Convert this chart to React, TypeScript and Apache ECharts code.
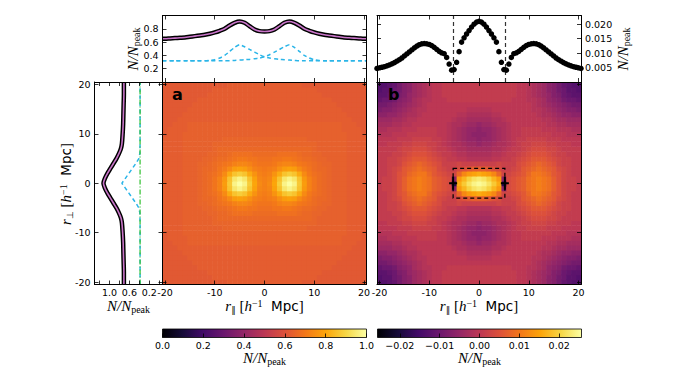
import React, { useEffect, useRef } from "react";
import * as echarts from "echarts";

// ---------- colour map (inferno) ----------
const INFERNO = ["#000004", "#160b39", "#420a68", "#6a176e", "#932667", "#bc3754", "#dd513a", "#f37819", "#fca50a", "#f6d746", "#fcffa4"];

// ---------- top-left: profile along r_par (half, r_par >= 0, mirrored) ----------
const PROFILE_X_HALF = [0, 1, 2, 3, 4, 5, 6, 7, 8, 9, 10, 11, 12, 13, 14, 15, 16, 17, 18, 19, 20, 20.5];
const PROFILE_TOTAL_HALF = [0.76, 0.765, 0.79, 0.84, 0.89, 0.91, 0.89, 0.85, 0.8, 0.77, 0.745, 0.725, 0.71, 0.7, 0.69, 0.68, 0.67, 0.665, 0.66, 0.655, 0.65, 0.65];
const PROFILE_X_FULL = [-20.5, -20, -19, -18, -17, -16, -15, -14, -13, -12, -11, -10, -9, -8, -7, -6, -5, -4, -3, -2, -1, 0, 1, 2, 3, 4, 5, 6, 7, 8, 9, 10, 11, 12, 13, 14, 15, 16, 17, 18, 19, 20, 20.5];
const PROFILE_SINGLE_RIGHT = [0.32, 0.32, 0.32, 0.32, 0.32, 0.32, 0.32, 0.32, 0.32, 0.32, 0.32, 0.32, 0.32, 0.32, 0.32, 0.325, 0.33, 0.335, 0.34, 0.35, 0.36, 0.38, 0.41, 0.45, 0.49, 0.53, 0.56, 0.52, 0.46, 0.4, 0.36, 0.335, 0.325, 0.32, 0.32, 0.32, 0.32, 0.32, 0.32, 0.32, 0.32, 0.32, 0.32];

// ---------- top-right: residual profile (half, mirrored) ----------
const RESID_X_HALF = [0, 0.5, 1, 1.5, 2, 2.5, 3, 3.5, 4, 4.5, 5, 5.5, 6, 6.5, 7, 7.5, 8, 8.5, 9, 9.5, 10, 10.5, 11, 11.5, 12, 12.5, 13, 13.5, 14, 14.5, 15, 15.5, 16, 16.5, 17, 17.5, 18, 18.5, 19, 19.5, 20, 20.5];
const RESID_N_HALF = [0.021, 0.0207, 0.02, 0.019, 0.0178, 0.0166, 0.0153, 0.0138, 0.0105, 0.0068, 0.0043, 0.0041, 0.0062, 0.0085, 0.0098, 0.0101, 0.0106, 0.0113, 0.012, 0.0126, 0.013, 0.0132, 0.0133, 0.0132, 0.0129, 0.0124, 0.0118, 0.0111, 0.0104, 0.0097, 0.009, 0.0083, 0.0077, 0.0072, 0.0067, 0.0063, 0.0059, 0.0056, 0.0053, 0.0051, 0.0049, 0.0047];
const DIVIDER_X = [-5.2, 5.2];

// ---------- left: profile along r_perp (half, mirrored) ----------
const SIDE_R_HALF = [0, 1, 2, 3, 4, 5, 6, 7, 8, 10, 12, 14, 16, 18, 20, 20.5];
const SIDE_TOTAL_HALF = [1.12, 1.09, 1.04, 0.98, 0.92, 0.86, 0.81, 0.77, 0.75, 0.735, 0.725, 0.72, 0.715, 0.71, 0.71, 0.71];
const SIDE_SINGLE_R_HALF = [0, 1, 2, 3, 4, 5, 6, 8, 20.5];
const SIDE_SINGLE_HALF = [0.75, 0.68, 0.61, 0.54, 0.47, 0.41, 0.39, 0.385, 0.385];
const SIDE_BASE_R = [-20.5, 20.5];
const SIDE_BASE = [0.385, 0.385];

// ---------- panel a: N/N_peak, quadrant r_perp = 0..20 (rows), r_par = 0..20 (cols) ----------
const PANEL_A = [
  [0.72, 0.74, 0.8, 0.88, 0.97, 1.0, 0.97, 0.87, 0.78, 0.72, 0.69, 0.67, 0.66, 0.65, 0.64, 0.64, 0.64, 0.63, 0.63, 0.63, 0.63],
  [0.72, 0.73, 0.79, 0.86, 0.94, 0.97, 0.94, 0.86, 0.77, 0.72, 0.69, 0.67, 0.66, 0.65, 0.64, 0.64, 0.64, 0.63, 0.63, 0.63, 0.63],
  [0.71, 0.72, 0.76, 0.81, 0.86, 0.88, 0.86, 0.81, 0.74, 0.7, 0.68, 0.67, 0.66, 0.65, 0.64, 0.64, 0.64, 0.63, 0.63, 0.63, 0.63],
  [0.7, 0.71, 0.72, 0.75, 0.78, 0.79, 0.78, 0.74, 0.71, 0.69, 0.67, 0.66, 0.66, 0.65, 0.64, 0.64, 0.64, 0.63, 0.63, 0.63, 0.63],
  [0.69, 0.69, 0.7, 0.72, 0.73, 0.73, 0.72, 0.7, 0.69, 0.68, 0.67, 0.66, 0.65, 0.65, 0.64, 0.64, 0.64, 0.63, 0.63, 0.63, 0.63],
  [0.68, 0.68, 0.69, 0.69, 0.7, 0.7, 0.69, 0.68, 0.67, 0.67, 0.66, 0.65, 0.65, 0.64, 0.64, 0.64, 0.64, 0.63, 0.63, 0.63, 0.63],
  [0.67, 0.67, 0.67, 0.68, 0.68, 0.68, 0.68, 0.67, 0.66, 0.66, 0.65, 0.65, 0.64, 0.64, 0.64, 0.64, 0.64, 0.63, 0.63, 0.63, 0.63],
  [0.66, 0.66, 0.66, 0.66, 0.66, 0.66, 0.66, 0.66, 0.66, 0.66, 0.65, 0.64, 0.64, 0.64, 0.64, 0.64, 0.64, 0.63, 0.63, 0.63, 0.63],
  [0.65, 0.65, 0.65, 0.65, 0.65, 0.65, 0.65, 0.65, 0.65, 0.65, 0.65, 0.64, 0.64, 0.64, 0.64, 0.64, 0.64, 0.63, 0.63, 0.63, 0.63],
  [0.65, 0.65, 0.65, 0.65, 0.65, 0.65, 0.65, 0.65, 0.65, 0.64, 0.64, 0.64, 0.64, 0.64, 0.64, 0.64, 0.64, 0.63, 0.63, 0.63, 0.63],
  [0.64, 0.64, 0.64, 0.64, 0.64, 0.64, 0.64, 0.64, 0.64, 0.64, 0.64, 0.64, 0.64, 0.64, 0.64, 0.64, 0.64, 0.63, 0.63, 0.63, 0.62],
  [0.64, 0.64, 0.64, 0.64, 0.64, 0.64, 0.64, 0.64, 0.64, 0.64, 0.64, 0.64, 0.64, 0.64, 0.64, 0.64, 0.63, 0.63, 0.63, 0.63, 0.62],
  [0.64, 0.64, 0.64, 0.64, 0.64, 0.64, 0.64, 0.64, 0.64, 0.64, 0.64, 0.64, 0.64, 0.64, 0.64, 0.64, 0.63, 0.63, 0.63, 0.62, 0.62],
  [0.63, 0.63, 0.63, 0.63, 0.63, 0.63, 0.63, 0.63, 0.63, 0.63, 0.63, 0.63, 0.63, 0.63, 0.63, 0.63, 0.63, 0.63, 0.62, 0.62, 0.62],
  [0.63, 0.63, 0.63, 0.63, 0.63, 0.63, 0.63, 0.63, 0.63, 0.63, 0.63, 0.63, 0.63, 0.63, 0.63, 0.63, 0.63, 0.62, 0.62, 0.62, 0.62],
  [0.63, 0.63, 0.63, 0.63, 0.63, 0.63, 0.63, 0.63, 0.63, 0.63, 0.63, 0.63, 0.63, 0.63, 0.63, 0.63, 0.62, 0.62, 0.62, 0.62, 0.62],
  [0.63, 0.63, 0.63, 0.63, 0.63, 0.63, 0.63, 0.63, 0.63, 0.63, 0.63, 0.63, 0.63, 0.63, 0.63, 0.62, 0.62, 0.62, 0.62, 0.62, 0.62],
  [0.63, 0.63, 0.63, 0.63, 0.63, 0.63, 0.63, 0.63, 0.63, 0.63, 0.63, 0.63, 0.63, 0.63, 0.62, 0.62, 0.62, 0.62, 0.62, 0.62, 0.62],
  [0.63, 0.63, 0.63, 0.63, 0.63, 0.63, 0.63, 0.63, 0.63, 0.63, 0.63, 0.63, 0.62, 0.62, 0.62, 0.62, 0.62, 0.62, 0.62, 0.62, 0.62],
  [0.63, 0.63, 0.63, 0.63, 0.63, 0.63, 0.63, 0.63, 0.63, 0.63, 0.63, 0.62, 0.62, 0.62, 0.62, 0.62, 0.62, 0.62, 0.62, 0.62, 0.62],
  [0.63, 0.63, 0.63, 0.63, 0.63, 0.63, 0.63, 0.63, 0.62, 0.62, 0.62, 0.62, 0.62, 0.62, 0.62, 0.62, 0.62, 0.62, 0.62, 0.62, 0.62],
];

// ---------- panel b: residual N/N_peak in units of 1e-3, same quadrant layout ----------
const PANEL_B_MILLI = [
  [25, 24, 22, 19, 16, -18, 4, 5, 6, 7, 9, 10, 11, 10, 9, 7, 5, 3, 2, 2, 1],
  [23, 22, 20, 17, 14, -6, 4, 5, 6, 7, 9, 10, 11, 10, 9, 7, 5, 3, 2, 2, 1],
  [16, 15, 14, 12, 8, 3, 3, 4, 5, 6, 8, 10, 10, 9, 8, 6, 5, 3, 2, 1, 1],
  [7, 7, 6, 5, 4, 2, 2, 3, 4, 6, 7, 8, 9, 8, 7, 6, 4, 3, 2, 1, 1],
  [2, 2, 2, 2, 3, 2, 2, 2, 4, 5, 6, 7, 8, 7, 6, 5, 3, 2, 2, 1, 1],
  [-1, -1, -1, 0, 0, 1, 1, 2, 3, 4, 5, 6, 6, 6, 5, 4, 3, 2, 2, 1, 1],
  [-2, -2, -2, -1, -1, 0, 1, 1, 2, 3, 4, 5, 5, 5, 4, 3, 2, 2, 1, 1, 1],
  [-3, -3, -3, -2, -2, -1, 0, 1, 1, 2, 3, 4, 4, 4, 3, 3, 2, 1, 1, 1, 1],
  [-5, -4, -4, -3, -2, -2, -1, 0, 1, 2, 2, 3, 3, 3, 2, 2, 1, 1, 1, 0, 0],
  [-6, -5, -5, -4, -3, -2, -1, 0, 1, 1, 2, 2, 2, 2, 1, 1, 1, 0, 0, 0, 0],
  [-6, -6, -5, -4, -3, -2, -1, 0, 0, 1, 1, 1, 1, 1, 1, 0, 0, 0, -1, -1, -1],
  [-6, -5, -5, -4, -3, -2, -1, 0, 0, 1, 1, 1, 1, 0, 0, 0, -1, -1, -1, -2, -2],
  [-5, -4, -4, -3, -2, -2, -1, 0, 0, 0, 0, 0, 0, 0, -1, -1, -2, -2, -3, -3, -3],
  [-3, -3, -3, -2, -2, -1, 0, 0, 0, 0, 0, 0, 0, -1, -1, -2, -3, -3, -4, -4, -4],
  [-2, -2, -2, -1, -1, 0, 0, 0, 0, 0, 0, 0, -1, -2, -2, -3, -4, -5, -5, -6, -6],
  [-1, -1, -1, 0, 0, 0, 0, 0, 0, 0, 0, -1, -1, -2, -3, -4, -5, -6, -7, -7, -8],
  [0, 0, 0, 0, 0, 0, 0, 0, 0, 0, 0, -1, -2, -3, -4, -5, -6, -7, -8, -9, -9],
  [1, 1, 1, 1, 1, 1, 1, 0, 0, 0, -1, -1, -2, -3, -5, -6, -7, -9, -10, -10, -11],
  [1, 1, 1, 1, 1, 1, 1, 1, 0, 0, -1, -2, -3, -4, -5, -7, -8, -10, -11, -12, -12],
  [1, 1, 1, 1, 1, 1, 1, 1, 0, 0, -1, -2, -3, -4, -6, -7, -9, -10, -12, -12, -13],
  [1, 1, 1, 1, 1, 1, 1, 1, 0, 0, -1, -2, -3, -4, -6, -7, -9, -11, -12, -13, -13],
];

const MARKER_X = [-5.2, 5.2];
const MARKER_Y = [0, 0];
const BOX_X = [-5.2, 5.2];
const BOX_Y = [-3, 3];

const MAP_TICKS = [-20, -10, 0, 10, 20];
const SIDE_X_TICKS = [1.2, 1.0, 0.8, 0.6, 0.4, 0.2, 0.0];
const SIDE_X_LABELS = [1.0, 0.6, 0.2];
const TOP_L_TICKS = [0.2, 0.4, 0.6, 0.8];
const TOP_R_TICKS = [0.005, 0.01, 0.015, 0.02];
const CBAR_A_TICKS = [0, 0.2, 0.4, 0.6, 0.8, 1.0];
const CBAR_B_TICKS = [-0.02, -0.01, 0, 0.01, 0.02];

// ---------- helpers ----------
function mirrorXY(xs: number[], ys: number[]) {
  const out: number[][] = [];
  for (let i = xs.length - 1; i > 0; i--) out.push([-xs[i], ys[i]]);
  for (let i = 0; i < xs.length; i++) out.push([xs[i], ys[i]]);
  return out;
}
function mirrorSide(rs: number[], vs: number[]) {
  return mirrorXY(rs, vs).map((p) => [p[1], p[0]]);
}
function fieldCells(q: number[][]) {
  const cells: number[][] = [];
  for (let j = -20; j <= 20; j++) for (let i = -20; i <= 20; i++) cells.push([i, j, q[Math.abs(j)][Math.abs(i)]]);
  return cells;
}

const AX_FONT = { fontFamily: "DejaVu Sans", fontSize: 9.5, color: "#000" };
const AX_LINE = { show: true, onZero: false, lineStyle: { color: "#000", width: 1 } };
const tick = (vals: number[], len = 4) => ({ show: true, inside: true, length: len, customValues: vals, lineStyle: { color: "#000", width: 0.8 } });

function axis(kind: "x" | "y", grid: number, position: string, min: number, max: number, ticks: number[] | null, labels: number[] | null, fmt?: (v: number) => string, extra: any = {}) {
  return {
    type: "value",
    gridIndex: grid,
    position,
    min,
    max,
    z: 10,
    axisLine: AX_LINE,
    axisTick: ticks ? tick(ticks) : { show: false },
    axisLabel: labels ? { ...AX_FONT, margin: kind === "x" ? 3 : 4, customValues: labels, formatter: fmt } : { show: false },
    splitLine: { show: false },
    ...extra,
  };
}

const mapFmt = (v: number) => String(Math.round(v));

const RICH: any = {
  it: { fontFamily: "Liberation Serif", fontStyle: "italic", fontSize: 15, lineHeight: 16, fill: "#000" },
  rm: { fontFamily: "Liberation Serif", fontSize: 15, lineHeight: 16, fill: "#000" },
  sans: { fontFamily: "DejaVu Sans", fontSize: 13.5, lineHeight: 16, fill: "#000" },
  sub: { fontFamily: "Liberation Serif", fontSize: 10, lineHeight: 9, verticalAlign: "bottom", fill: "#000" },
  subsym: { fontFamily: "DejaVu Sans", fontSize: 9, lineHeight: 9, verticalAlign: "bottom", fill: "#000" },
  sup: { fontFamily: "Liberation Serif", fontSize: 10, lineHeight: 10, verticalAlign: "top", fill: "#000" },
};
const NNPEAK = "{it|N/N}{sub|peak}";
const RPAR = "{it|r}{subsym|\u2225}{rm| [}{it|h}{sup|\u22121}{sans|  Mpc}{rm|]}";
const RPERP = "{it|r}{subsym|\u22a5}{rm| [}{it|h}{sup|\u22121}{sans|  Mpc}{rm|]}";

function label(text: string, x: number, y: number, rotate = false) {
  return {
    type: "text",
    x,
    y,
    rotation: rotate ? Math.PI / 2 : 0,
    z: 20,
    style: { text, rich: RICH, align: "center", verticalAlign: "middle", fill: "#000" },
  };
}

const cellRender = (params: any, api: any) => {
  const x = api.value(0);
  const y = api.value(1);
  const a = api.coord([x - 0.5, y + 0.5]);
  const b = api.coord([x + 0.5, y - 0.5]);
  return {
    type: "rect",
    shape: { x: a[0], y: a[1], width: b[0] - a[0] + 0.6, height: b[1] - a[1] + 0.6 },
    style: { fill: api.visual("color") },
  };
};

const cbarRender = (params: any) => {
  const cs = params.coordSys;
  return {
    type: "rect",
    shape: { x: cs.x, y: cs.y, width: cs.width, height: cs.height },
    style: {
      fill: new echarts.graphic.LinearGradient(0, 0, 1, 0, INFERNO.map((c, i) => ({ offset: i / (INFERNO.length - 1), color: c }))),
      stroke: "#000",
      lineWidth: 0.8,
    },
  };
};

function buildOption(): any {
  const grids = [
    { left: 162.5, top: 15.5, width: 204, height: 66.5 }, // 0 top-left
    { left: 377, top: 15.5, width: 204, height: 66.5 }, // 1 top-right
    { left: 94.5, top: 82, width: 68, height: 202.5 }, // 2 side
    { left: 162.5, top: 82, width: 204, height: 202.5 }, // 3 map a
    { left: 377, top: 82, width: 204, height: 202.5 }, // 4 map b
    { left: 162.5, top: 329, width: 204, height: 8.5 }, // 5 cbar a
    { left: 377.5, top: 329, width: 204, height: 8.5 }, // 6 cbar b
  ];

  const R = 20.5;
  const xAxis = [
    axis("x", 0, "bottom", -R, R, MAP_TICKS, null),
    axis("x", 0, "top", -R, R, MAP_TICKS, null),
    axis("x", 1, "bottom", -R, R, MAP_TICKS, null),
    axis("x", 1, "top", -R, R, MAP_TICKS, null),
    axis("x", 2, "bottom", -0.065, 1.3, SIDE_X_TICKS, SIDE_X_LABELS, (v) => v.toFixed(1), { inverse: true }),
    axis("x", 2, "top", -0.065, 1.3, SIDE_X_TICKS, null, undefined, { inverse: true }),
    axis("x", 3, "bottom", -R, R, MAP_TICKS, MAP_TICKS, mapFmt),
    axis("x", 3, "top", -R, R, MAP_TICKS, null),
    axis("x", 4, "bottom", -R, R, MAP_TICKS, MAP_TICKS, mapFmt),
    axis("x", 4, "top", -R, R, MAP_TICKS, null),
    axis("x", 5, "bottom", 0, 1, CBAR_A_TICKS, CBAR_A_TICKS, (v) => v.toFixed(1), { axisLine: { show: false } }),
    { type: "value", gridIndex: 5, position: "top", min: 0, max: 1, show: false },
    axis("x", 6, "bottom", -0.0256, 0.0256, CBAR_B_TICKS, CBAR_B_TICKS, (v) => (v < -1e-9 ? "\u2212" : "") + Math.abs(v).toFixed(2), { axisLine: { show: false } }),
    { type: "value", gridIndex: 6, position: "top", min: -0.0256, max: 0.0256, show: false },
  ];
  const yAxis = [
    axis("y", 0, "left", 0, 1.0, TOP_L_TICKS, TOP_L_TICKS, (v) => v.toFixed(1)),
    axis("y", 0, "right", 0, 1.0, TOP_L_TICKS, null),
    axis("y", 1, "left", 0, 0.023, TOP_R_TICKS, null),
    axis("y", 1, "right", 0, 0.023, TOP_R_TICKS, TOP_R_TICKS, (v) => v.toFixed(3)),
    axis("y", 2, "left", -R, R, MAP_TICKS, MAP_TICKS, mapFmt),
    axis("y", 2, "right", -R, R, MAP_TICKS, null),
    axis("y", 3, "left", -R, R, MAP_TICKS, null),
    axis("y", 3, "right", -R, R, MAP_TICKS, null),
    axis("y", 4, "left", -R, R, MAP_TICKS, null),
    axis("y", 4, "right", -R, R, MAP_TICKS, null),
    { type: "value", gridIndex: 5, position: "left", min: 0, max: 1, show: false },
    { type: "value", gridIndex: 5, position: "right", min: 0, max: 1, show: false },
    { type: "value", gridIndex: 6, position: "left", min: 0, max: 1, show: false },
    { type: "value", gridIndex: 6, position: "right", min: 0, max: 1, show: false },
  ];

  const totalTop = mirrorXY(PROFILE_X_HALF, PROFILE_TOTAL_HALF);
  const singleRight = PROFILE_X_FULL.map((x, i) => [x, PROFILE_SINGLE_RIGHT[i]]);
  const singleLeft = PROFILE_X_FULL.map((x, i) => [x, PROFILE_SINGLE_RIGHT[PROFILE_X_FULL.length - 1 - i]]);
  const resid = mirrorXY(RESID_X_HALF, RESID_N_HALF);
  const sideTotal = mirrorSide(SIDE_R_HALF, SIDE_TOTAL_HALF);
  const sideSingle = mirrorSide(SIDE_SINGLE_R_HALF, SIDE_SINGLE_HALF);
  const sideBase = SIDE_BASE_R.map((r, i) => [SIDE_BASE[i], r]);

  const blue = { color: "#2bb5e8", width: 1.5, type: [4, 3] };
  const series: any[] = [
    // 0-3 top-left profile
    { type: "line", xAxisIndex: 0, yAxisIndex: 0, data: totalTop, smooth: 0.3, symbol: "none", lineStyle: { color: "#000", width: 4.5 }, z: 3 },
    { type: "line", xAxisIndex: 0, yAxisIndex: 0, data: totalTop, smooth: 0.3, symbol: "none", lineStyle: { color: "#c874c8", width: 1.6 }, z: 4 },
    { type: "line", xAxisIndex: 0, yAxisIndex: 0, data: singleRight, smooth: 0.2, symbol: "none", lineStyle: blue, z: 3 },
    { type: "line", xAxisIndex: 0, yAxisIndex: 0, data: singleLeft, smooth: 0.2, symbol: "none", lineStyle: blue, z: 3 },
    // 4 top-right residual
    {
      type: "scatter", xAxisIndex: 2, yAxisIndex: 2, data: resid, symbolSize: 5.5, itemStyle: { color: "#000", opacity: 1 }, z: 3,
      markLine: { silent: true, symbol: "none", z: 2, label: { show: false }, lineStyle: { color: "#333", type: [4, 3], width: 1.2 }, data: DIVIDER_X.map((x) => ({ xAxis: x })) },
    },
    // 5-8 side profile
    { type: "line", xAxisIndex: 4, yAxisIndex: 4, data: sideTotal, smooth: 0.3, symbol: "none", lineStyle: { color: "#000", width: 4.5 }, z: 3 },
    { type: "line", xAxisIndex: 4, yAxisIndex: 4, data: sideTotal, smooth: 0.3, symbol: "none", lineStyle: { color: "#c874c8", width: 1.6 }, z: 4 },
    { type: "line", xAxisIndex: 4, yAxisIndex: 4, data: sideSingle, symbol: "none", lineStyle: blue, z: 3 },
    { type: "line", xAxisIndex: 4, yAxisIndex: 4, data: sideBase, symbol: "none", lineStyle: { color: "#3cc43c", width: 1.3, type: [5, 2, 1, 2] }, z: 3 },
    // 9 map a
    { type: "custom", xAxisIndex: 6, yAxisIndex: 6, data: fieldCells(PANEL_A), renderItem: cellRender, clip: true, z: 1 },
    // 10 map b
    { type: "custom", xAxisIndex: 8, yAxisIndex: 8, data: fieldCells(PANEL_B_MILLI), renderItem: cellRender, clip: true, z: 1 },
    // 11 markers + box on map b
    {
      type: "scatter", xAxisIndex: 8, yAxisIndex: 8, z: 6,
      data: MARKER_X.map((x, i) => [x, MARKER_Y[i]]),
      symbol: "path://M3,0H5V5H8V7H5V12H3V7H0V5H3Z", symbolSize: [8, 13], itemStyle: { color: "#000", opacity: 1 },
      markArea: {
        silent: true, z: 7,
        itemStyle: { color: "rgba(0,0,0,0)", borderColor: "#000", borderWidth: 1.2, borderType: [4, 3] },
        data: [[{ coord: [BOX_X[0], BOX_Y[1]] }, { coord: [BOX_X[1], BOX_Y[0]] }]],
      },
    },
    // 12-13 colour bars
    { type: "custom", xAxisIndex: 10, yAxisIndex: 10, data: [[0.5, 0.5]], renderItem: cbarRender, z: 1 },
    { type: "custom", xAxisIndex: 12, yAxisIndex: 12, data: [[0, 0.5]], renderItem: cbarRender, z: 1 },
  ];

  const graphic = [
    label(NNPEAK, 133, 49, true),
    label(NNPEAK, 623, 49, true),
    label(RPERP, 66, 184, true),
    label(NNPEAK, 128.5, 306),
    label(RPAR, 264.5, 306),
    label(RPAR, 479, 306),
    label(NNPEAK, 264.5, 358),
    label(NNPEAK, 479.5, 358),
    { type: "text", x: 172, y: 94.5, z: 20, style: { text: "a", font: 'bold 16px "DejaVu Sans"', fill: "#000", align: "left", verticalAlign: "middle" } },
    { type: "text", x: 388, y: 94.5, z: 20, style: { text: "b", font: 'bold 16px "DejaVu Sans"', fill: "#000", align: "left", verticalAlign: "middle" } },
  ];

  return {
    animation: false,
    backgroundColor: "#fff",
    grid: grids,
    xAxis,
    yAxis,
    visualMap: [
      { show: false, type: "continuous", seriesIndex: 9, dimension: 2, min: 0, max: 1, inRange: { color: INFERNO } },
      { show: false, type: "continuous", seriesIndex: 10, dimension: 2, min: -25.6, max: 25.6, inRange: { color: INFERNO } },
    ],
    series,
    graphic,
  };
}

export default function App() {
  const ref = useRef<HTMLDivElement>(null);
  useEffect(() => {
    const chart = echarts.init(ref.current!, undefined, { renderer: "svg" });
    chart.setOption(buildOption());
    return () => chart.dispose();
  }, []);
  return <div ref={ref} style={{ position: "fixed", left: 0, top: 0, width: 697, height: 380, background: "#fff" }} />;
}
